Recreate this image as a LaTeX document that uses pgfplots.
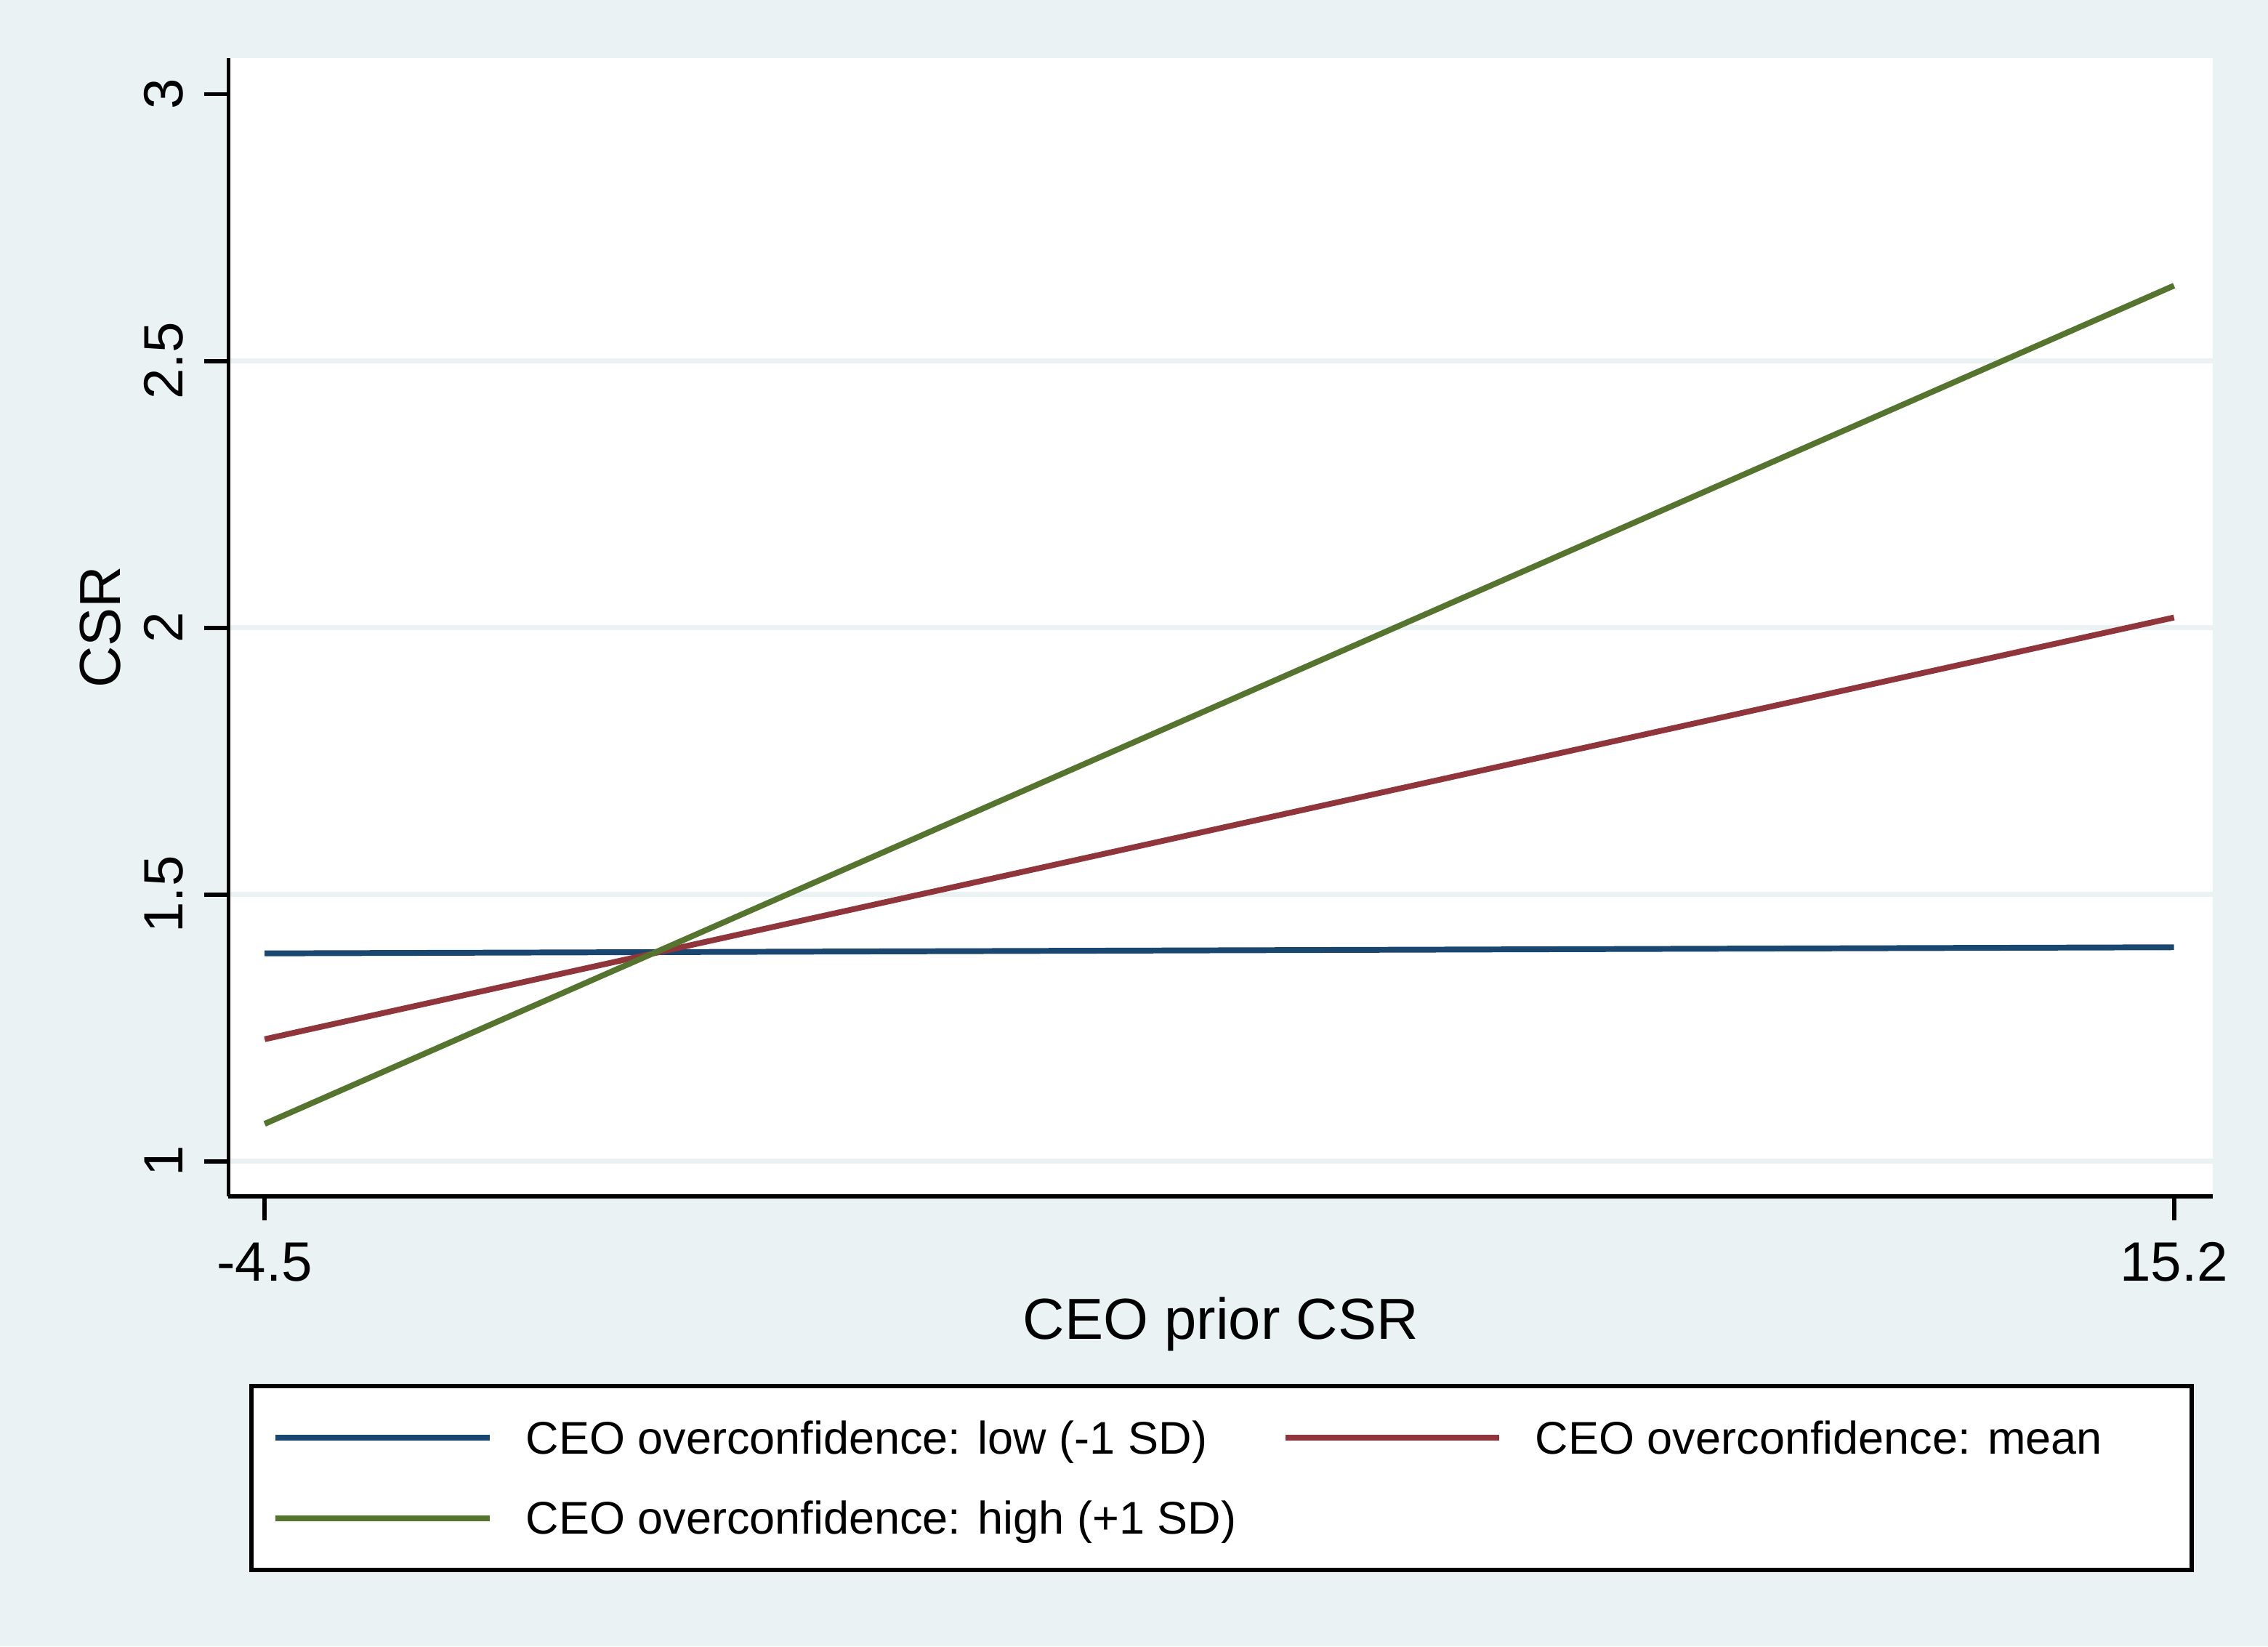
\documentclass[border=0pt]{standalone}
\usepackage{fontspec}
\setmainfont{Liberation Sans}
\usepackage{pgfplots}
\pgfplotsset{compat=1.18}
\definecolor{bgc}{RGB}{234,242,243}
\definecolor{navy}{RGB}{26,71,111}
\definecolor{maroon}{RGB}{144,53,59}
\definecolor{forest}{RGB}{85,117,47}
\begin{document}
\begin{tikzpicture}
\useasboundingbox (0,0) rectangle (470.4pt,341.4pt);
\fill[bgc] (0,0) rectangle (470.4pt,341.4pt);
\begin{axis}[
  at={(47.4pt,93.3pt)}, anchor=south west,
  scale only axis, width=411.6pt, height=236.1pt,
  xmin=-4.873, xmax=15.603, ymin=0.934, ymax=3.068,
  axis lines*=left,
  axis line style={-, line width=0.9pt, black},
  axis background/.style={fill=white},
  tick align=outside, major tick length=5pt,
  tick style={line width=0.9pt, black},
  xtick={-4.5,15.2}, xticklabels={{-4.5},{15.2}},
  ytick={1,1.5,2,2.5}, yticklabels={{1},{1.5},{2},{2.5}},
  extra y ticks={3}, extra y tick labels={{3}},
  extra y tick style={grid=none},
  ymajorgrids, grid style={bgc, line width=1pt},
  minor tick num=0,
  ticklabel style={font=\fontsize{11.5}{13}\selectfont},
  yticklabel style={xshift=-4.5pt, rotate=90, anchor=base},
  xticklabel style={yshift=-12.6pt, anchor=base},
  xlabel={CEO prior CSR},
  xlabel style={at={(axis description cs:0.5,-0.1252)}, anchor=base, font=\fontsize{12}{14}\selectfont},
  ylabel={CSR},
  ylabel style={at={(axis description cs:-0.0547,0.5)}, anchor=base, font=\fontsize{12}{14}\selectfont},
  legend columns=2,
  legend image code/.code={\path[draw=none,fill=none] (-5pt,-5.05pt) rectangle (51.9pt,11.65pt); \draw[#1] (0pt,3.3pt) -- (44.4pt,3.3pt);},
  legend style={at={(0.01045,-0.16476)}, anchor=north west, draw=black, line width=0.9pt, fill=white,
    inner xsep=0pt, inner ysep=2.35pt, row sep=0pt, column sep=0pt,
    cells={anchor=base west}, nodes={inner sep=0pt}, font=\fontsize{9.5}{11}\selectfont},
]
\addplot[navy, line width=1.2pt] coordinates {(-4.5,1.3895) (15.2,1.401)};
\addlegendentry{\makebox[152.5pt][l]{CEO overconfidence: low (-1 SD)}}
\addplot[maroon, line width=1.2pt] coordinates {(-4.5,1.2286) (15.2,2.019)};
\addlegendentry{\makebox[136.1pt][l]{CEO overconfidence: mean}}
\addplot[forest, line width=1.2pt] coordinates {(-4.5,1.070) (15.2,2.641)};
\addlegendentry{\makebox[152.5pt][l]{CEO overconfidence: high (+1 SD)}}
\end{axis}
\end{tikzpicture}
\end{document}
